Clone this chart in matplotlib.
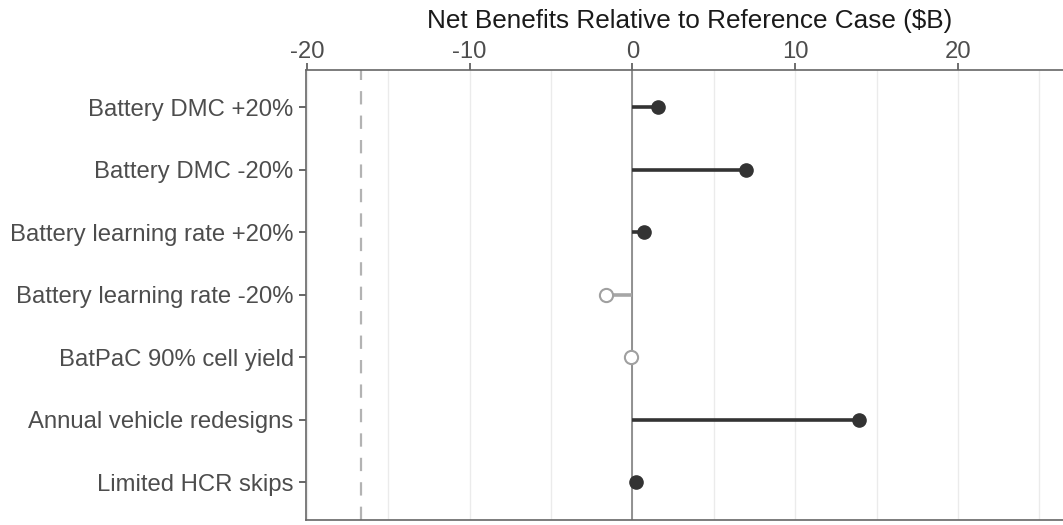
import matplotlib.pyplot as plt

plt.rcParams['font.family'] = ['Liberation Sans', 'DejaVu Sans']

cases = ["Battery DMC +20%", "Battery DMC -20%", "Battery learning rate +20%",
         "Battery learning rate -20%", "BatPaC 90% cell yield",
         "Annual vehicle redesigns", "Limited HCR skips"]
benefits = [1.6, 7.0, 0.7, -1.6, -0.1, 13.9, 0.25]
threshold = -16.7
xticks = [-20, -10, 0, 10, 20]

fig = plt.figure(figsize=(10.63, 5.25), dpi=100)
ax = fig.add_axes([0.288, 0.0095, 0.712, 0.8575])

ypos = list(range(len(cases)))
ax.set_ylim(len(cases) - 0.4, -0.6)
ax.set_xlim(-20.04, 26.45)

# grid (major + minor)
for g in range(-20, 30, 5):
    ax.axvline(g, color="#ebebeb", lw=1.0, zorder=0)
ax.axvline(0, color="#808080", lw=1.2, zorder=1)
ax.axvline(threshold, color="#b3b3b3", lw=1.6, ls=(0, (6, 5)), zorder=1)

for y, v in zip(ypos, benefits):
    if v < 0:
        ax.plot([0, v], [y, y], color="#a6a6a6", lw=2.6, zorder=2, solid_capstyle="butt")
        ax.plot(v, y, "o", ms=9.5, mfc="white", mec="#a0a0a0", mew=1.5, zorder=3)
    else:
        ax.plot([0, v], [y, y], color="#333333", lw=2.6, zorder=2, solid_capstyle="butt")
        ax.plot(v, y, "o", ms=9.5, color="#333333", zorder=3)

ax.set_yticks(ypos)
ax.set_yticklabels(cases)
ax.set_xticks(xticks)
ax.set_xticklabels([str(t) for t in xticks])
ax.xaxis.tick_top()
ax.tick_params(axis="both", labelsize=17.2, colors="#4d4d4d", length=5,
               width=1.2, pad=4)
ax.tick_params(axis="x", colors="#555555", labelcolor="#4d4d4d", pad=0)

# axis title placed by hand above the top tick labels
fig.text(0.649, 1 - 28 / 525, "Net Benefits Relative to Reference Case ($B)",
         fontsize=18.8, color="#1a1a1a", ha="center", va="baseline")

for side in ["left", "top", "bottom"]:
    ax.spines[side].set_color("#666666")
    ax.spines[side].set_linewidth(1.2)
ax.spines["right"].set_visible(False)

fig.savefig("out.png", dpi=100)
